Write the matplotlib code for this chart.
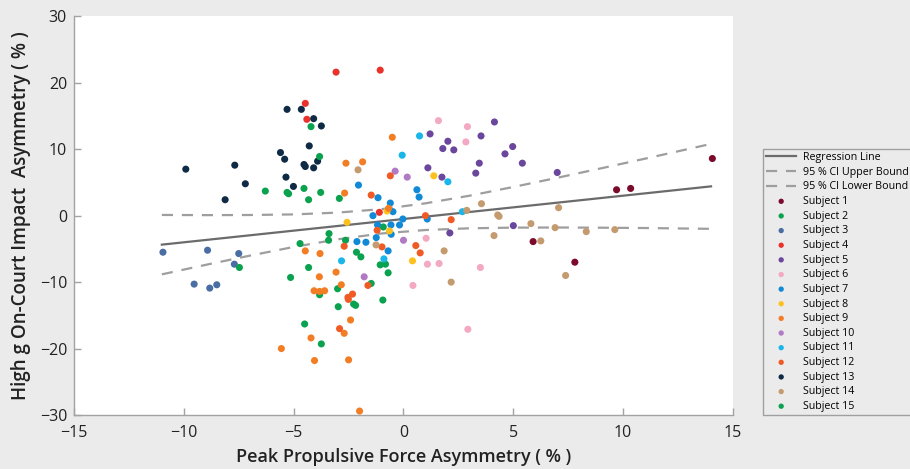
import matplotlib
matplotlib.use("Agg")
import matplotlib.pyplot as plt

# =========================
# Data
# =========================
subject_names = [f"Subject {i}" for i in range(1, 16)]
subject_colors = [
    "#7b0a2d", "#0aa24f", "#4a6ea3", "#e8322b", "#6a479c",
    "#f3a8c3", "#1089d6", "#fdc11f", "#f37d25", "#b07ac4",
    "#19b6ea", "#f05a25", "#0e2a45", "#c49a6f", "#0aa24f",
]

s1_x = [9.70, 10.34, 14.06, 5.90, 7.80]
s1_y = [3.9, 4.1, 8.6, -3.9, -7.0]

s2_x = [-0.92, -3.39, -4.71, -3.41, -2.64, -2.14, -1.94, -1.06, -0.82, -4.32,
        -0.70, -5.14, -1.47, -3.00, -3.82, -0.94, -2.27, -2.18, -2.97, -3.74]
s2_y = [-1.7, -2.7, -4.2, -3.7, -3.7, -5.5, -6.2, -7.4, -7.3, -7.8,
        -8.6, -9.3, -10.2, -11.0, -11.9, -12.7, -13.3, -13.5, -13.7, -19.3]

s3_x = [-10.95, -8.92, -7.50, -7.70, -9.53, -8.82, -8.50]
s3_y = [-5.5, -5.2, -5.7, -7.3, -10.3, -10.9, -10.4]

s4_x = [-3.07, -1.06, -4.47, -4.40, -1.10]
s4_y = [21.6, 21.9, 16.9, 14.5, 0.5]

s5_x = [1.21, 1.79, 2.02, 2.29, 1.11, 1.75, 2.11, 4.14, 3.53, 4.97, 4.62,
        3.45, 5.41, 3.29, 7.00, 5.00]
s5_y = [12.3, 10.1, 11.2, 9.9, 7.2, 5.8, -2.6, 14.1, 12.0, 10.4, 9.3,
        7.9, 7.9, 6.4, 6.5, -1.5]

s6_x = [1.59, 2.91, 2.84, 1.03, 1.09, 1.62, 0.43, 3.50, 2.93]
s6_y = [14.3, 13.4, 11.1, -3.4, -7.3, -7.2, -10.5, -7.8, -17.1]

s7_x = [-2.05, -1.16, -0.60, -1.39, -0.48, 0.61, 0.71, 1.08, -0.03, -1.18,
        -0.57, -0.18, -1.24, -0.56, -2.12, -1.71, -0.70]
s7_y = [4.6, 2.7, 1.9, 0.0, 0.6, 3.9, 2.8, -0.5, -0.5, -1.4,
        -1.4, -1.4, -3.3, -2.8, -3.9, -4.0, -5.3]

s8_x = [-0.75, 1.38, -2.57, -0.64, 0.41]
s8_y = [0.7, 6.0, -1.0, -2.3, -6.8]

s9_x = [-2.62, -1.86, -2.68, -0.51, -0.68, -4.47, -3.80, -3.07, -3.83, -2.83,
        -4.07, -3.82, -3.59, -2.41, -2.70, -4.21, -5.56, -4.05, -2.50, -2.00]
s9_y = [7.9, 8.1, 3.4, 11.8, 1.1, -5.3, -5.7, -8.5, -9.2, -10.4,
        -11.3, -11.4, -11.3, -15.7, -17.7, -18.4, -20.0, -21.8, -21.7, -29.4]

s10_x = [-0.38, 0.17, 0.00, -1.79]
s10_y = [6.7, 5.8, -3.7, -9.2]

s11_x = [-0.06, 0.73, 2.02, 2.68, -2.82, -0.89]
s11_y = [9.1, 12.0, 5.1, 0.6, -6.8, -6.5]

s12_x = [-0.60, -1.47, 1.00, 2.17, -1.20, -2.70, -0.98, 0.56, 0.76, -1.62,
         -2.32, -2.53, -2.51, -2.91]
s12_y = [6.0, 3.1, 0.0, -0.6, -2.2, -4.6, -4.7, -4.5, -5.6, -10.5,
         -11.8, -12.3, -12.6, -17.0]

s13_x = [-5.30, -4.65, -4.09, -3.74, -4.29, -5.60, -5.41, -3.91, -4.53, -4.47,
         -4.09, -9.91, -7.68, -7.20, -5.35, -5.01, -8.12]
s13_y = [16.0, 16.0, 14.6, 13.5, 10.5, 9.5, 8.5, 8.2, 7.7, 7.4,
         7.2, 7.0, 7.6, 4.8, 5.8, 4.4, 2.4]

s14_x = [-2.07, -1.25, 1.85, 2.17, 3.55, 2.88, 4.29, 4.35, 7.06, 5.80,
         6.90, 8.32, 9.62, 4.12, 6.25, 7.38]
s14_y = [6.9, -4.4, -5.3, -10.0, 1.8, 0.8, 0.1, -0.1, 1.2, -1.2,
         -1.8, -2.4, -2.1, -3.0, -3.8, -9.0]

s15_x = [-4.21, -3.82, -6.29, -5.30, -5.23, -4.53, -4.32, -3.77, -2.92, -7.47, -4.50]
s15_y = [13.4, 8.9, 3.7, 3.5, 3.3, 4.1, 2.4, 3.5, 2.6, -7.8, -16.3]

subjects_x = [s1_x, s2_x, s3_x, s4_x, s5_x, s6_x, s7_x, s8_x,
              s9_x, s10_x, s11_x, s12_x, s13_x, s14_x, s15_x]
subjects_y = [s1_y, s2_y, s3_y, s4_y, s5_y, s6_y, s7_y, s8_y,
              s9_y, s10_y, s11_y, s12_y, s13_y, s14_y, s15_y]

# regression line and 95 % CI bounds, read at sample x positions
reg_x = [-11, 14]
reg_y = [-4.36, 4.41]
ci_x = [-11, -9, -7, -5, -3, -1, 1, 3, 5, 7, 9, 11, 13, 14]
ci_upper = [0.11, 0.08, 0.10, 0.19, 0.46, 0.98, 1.86, 3.00, 4.32, 5.70, 7.13, 8.58, 10.06, 10.80]
ci_lower = [-8.83, -7.40, -6.02, -4.71, -3.56, -2.68, -2.16, -1.90, -1.80, -1.78, -1.81, -1.86, -1.94, -1.98]

x_ticks = [-15, -10, -5, 0, 5, 10, 15]
y_ticks = [-30, -20, -10, 0, 10, 20, 30]

# =========================
# Plot
# =========================
plt.rcParams["font.family"] = ["Open Sans", "DejaVu Sans"]
BG = "#ebebeb"
AXIS_GREY = "#a3a3a3"

fig = plt.figure(figsize=(9.1, 4.69), dpi=100, facecolor=BG)
ax = fig.add_axes([0.0813, 0.1151, 0.7242, 0.8501])
ax.set_facecolor("white")

ax.plot(reg_x, reg_y, color="#6b6b6b", lw=1.6, zorder=2, label="Regression Line")
ax.plot(ci_x, ci_upper, color="#9e9e9e", lw=1.6, ls=(0, (5, 4)), zorder=2,
        label="95 % CI Upper Bound")
ax.plot(ci_x, ci_lower, color="#9e9e9e", lw=1.6, ls=(0, (5, 4)), zorder=2,
        label="95 % CI Lower Bound")

for xs, ys, name, col in zip(subjects_x, subjects_y, subject_names, subject_colors):
    ax.scatter(xs, ys, s=26, color=col, edgecolors="none", zorder=3, label=name)

ax.set_xlim(-15, 15)
ax.set_ylim(-30, 30)
ax.set_xticks(x_ticks)
ax.set_yticks(y_ticks)
for side in ["top", "right"]:
    ax.spines[side].set_visible(False)
for side in ["left", "bottom"]:
    ax.spines[side].set_color(AXIS_GREY)
    ax.spines[side].set_linewidth(1.0)
ax.tick_params(direction="in", length=5, width=1, color=AXIS_GREY,
               labelsize=11.5, labelcolor="#222222")
ax.tick_params(axis="x", pad=7)
ax.tick_params(axis="y", pad=5)

ax.set_xlabel("Peak Propulsive Force Asymmetry ( % )", fontsize=13,
              fontweight="semibold", color="#222222", labelpad=5)
ax.set_ylabel("High g On-Court Impact  Asymmetry ( % )", fontsize=13.5,
              fontweight="semibold", color="#222222", labelpad=6)

handles, labels = ax.get_legend_handles_labels()
leg = fig.legend(handles, labels, loc="upper left",
                 bbox_to_anchor=(763 / 910, 1 - 149 / 469),
                 fontsize=7.7, frameon=True, fancybox=False,
                 handlelength=2.8, handletextpad=0.6, labelspacing=0.34,
                 borderpad=0.3, borderaxespad=0, markerscale=0.75)
leg.get_frame().set_facecolor(BG)
leg.get_frame().set_edgecolor("#8c8c8c")
leg.get_frame().set_linewidth(1.0)

fig.savefig("out.png", dpi=100, facecolor=BG)
